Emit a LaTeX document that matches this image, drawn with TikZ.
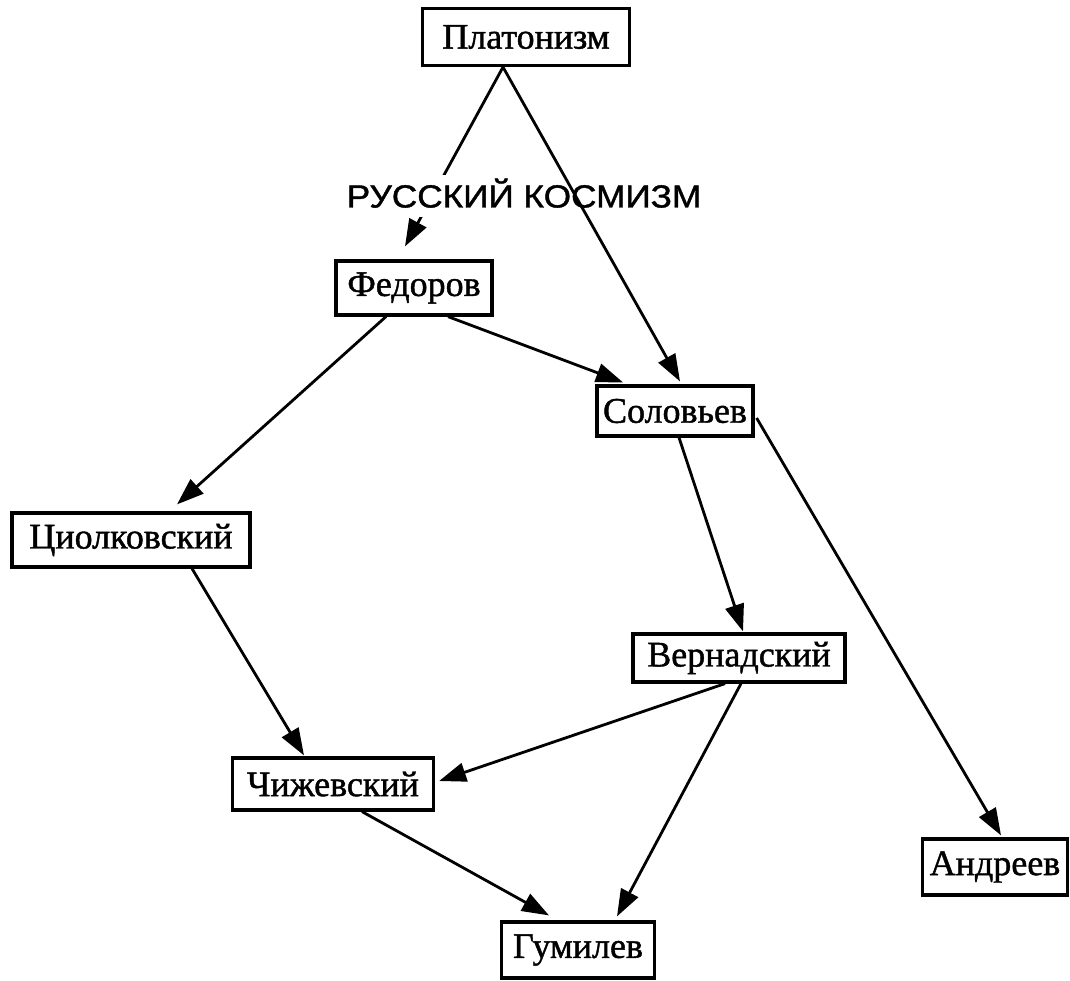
\documentclass[tikz,border=0pt]{standalone}
\usepackage{fontspec}
\setmainfont[FakeBold=1.2]{Liberation Serif}
\newfontfamily\titlefont[FakeStretch=1.1,FakeBold=1.2]{Liberation Sans}
\usetikzlibrary{arrows.meta,calc}
\tikzset{
  box/.style={draw=black, line width=3.2pt, fill=white, inner sep=0pt,
    font=\fontsize{36}{40}\selectfont},
  arr/.style={line width=2.8pt, -{Triangle[length=27pt,width=19pt]}},
}
\begin{document}
\begin{tikzpicture}[x=1pt,y=-1pt]
\useasboundingbox (0,0) rectangle (1070,981);
\node[box, minimum width=207pt, minimum height=57pt] (plat) at (526,37) {Платонизм};
\node[box, minimum width=156pt, minimum height=54pt] (fed) at (414,288) {Федоров};
\node[box, minimum width=156pt, minimum height=50pt] (solov) at (675,411) {Соловьев};
\node[box, minimum width=238pt, minimum height=54pt] (tsiol) at (131,540) {Циолковский};
\node[box, minimum width=212pt, minimum height=48pt] (vern) at (739,658) {Вернадский};
\node[box, minimum width=201pt, minimum height=52pt] (chizh) at (333,784) {Чижевский};
\node[box, minimum width=145pt, minimum height=56pt] (andr) at (995,867) {Андреев};
\node[box, minimum width=153pt, minimum height=56pt] (gum) at (578,950) {Гумилев};
% Platonism -> Fedorov (interrupted by the title)
\draw[arr] ($(plat.south)+(-23,0)$) -- ($(fed.north)+(-9,-13)$);
\node[fill=white, inner xsep=4pt, inner ysep=0pt, minimum height=42pt,
  text height=23pt, text depth=0pt,
  font=\titlefont\fontsize{32}{35}\selectfont] (title) at (524,196) {РУССКИЙ КОСМИЗМ};
\draw[arr] ($(plat.south)+(-23,0)$) -- ($(solov.north)+(5,-3)$);
\draw[arr] ($(fed.south)+(34,0)$) -- ($(solov.north)+(-52,-2)$);
\draw[arr] ($(fed.south)+(-28,0)$) -- ($(tsiol.north)+(46,-7)$);
\draw[arr] ($(solov.south)+(4,0)$) -- ($(vern.north)+(4,-1)$);
\draw[arr] ($(solov.east)+(2,7)$) -- ($(andr.north)+(6,-2)$);
\draw[arr] ($(tsiol.south)+(61,0)$) -- ($(chizh.north)+(-29,-1)$);
\draw[arr] ($(vern.south)+(-14,0)$) -- ($(chizh.east)+(4,-3)$);
\draw[arr] ($(vern.south)+(2,0)$) -- ($(gum.north)+(39,-4)$);
\draw[arr] ($(chizh.south)+(29,0)$) -- ($(gum.north)+(-29,-5)$);
\end{tikzpicture}
\end{document}
